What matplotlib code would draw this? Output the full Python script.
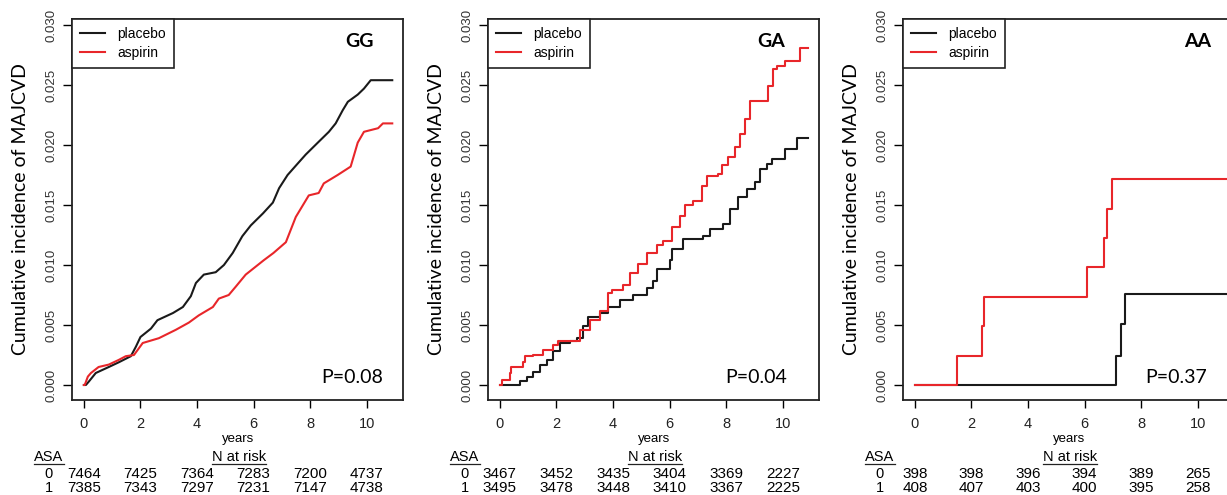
import matplotlib
matplotlib.use('Agg')
import matplotlib.pyplot as plt

plt.rcParams['font.family'] = ['Liberation Sans', 'DejaVu Sans']

# ---- data ----
panels = ['GG', 'GA', 'AA']
p_values = ['P=0.08', 'P=0.04', 'P=0.37']

gg_placebo_t = [0.0, 0.07, 0.18, 0.42, 0.88, 1.24, 1.66, 1.84, 2.0, 2.37, 2.6, 3.15, 3.5, 3.78, 3.96, 4.24,
                4.66, 4.95, 5.26, 5.6, 5.9, 6.33, 6.68, 6.9, 7.2, 7.5, 7.84, 8.27, 8.66, 8.9, 9.15, 9.33,
                9.68, 9.9, 10.14, 10.9]
gg_placebo_v = [0.0, 0.0, 0.0003, 0.001, 0.0015, 0.0019, 0.0024, 0.0032, 0.004, 0.0047, 0.0054, 0.006, 0.0065,
                0.0074, 0.0085, 0.0092, 0.0094, 0.010, 0.011, 0.0124, 0.0133, 0.0143, 0.0152, 0.0164, 0.0175,
                0.0183, 0.0192, 0.0202, 0.0211, 0.0218, 0.0229, 0.0236, 0.0242, 0.0247, 0.0254, 0.0254]
gg_aspirin_t = [0.0, 0.03, 0.14, 0.25, 0.52, 0.88, 1.24, 1.48, 1.77, 2.08, 2.65, 3.25, 3.71, 4.06, 4.56, 4.77,
                5.12, 5.37, 5.72, 6.36, 6.7, 7.14, 7.49, 7.95, 8.3, 8.48, 8.97, 9.43, 9.68, 9.9, 10.4, 10.57,
                10.9]
gg_aspirin_v = [0.0, 0.0, 0.0007, 0.001, 0.0015, 0.0017, 0.0021, 0.0024, 0.0025, 0.0035, 0.0039, 0.0046, 0.0052,
                0.0058, 0.0065, 0.0072, 0.0075, 0.0082, 0.0092, 0.0104, 0.011, 0.0119, 0.014, 0.0158, 0.016,
                0.0168, 0.0175, 0.0182, 0.0202, 0.0211, 0.0214, 0.0218, 0.0218]

ga_placebo_t = [0.0, 0.64, 0.7, 0.95, 1.17, 1.41, 1.66, 1.88, 2.12, 2.47, 2.72, 2.93, 3.1, 3.53, 3.82, 4.24,
                4.7, 5.19, 5.4, 5.55, 6.0, 6.1, 6.47, 7.17, 7.42, 7.88, 8.13, 8.41, 8.73, 9.01, 9.19, 9.43,
                9.61, 10.07, 10.49, 10.9]
ga_placebo_v = [0.0, 0.0, 0.0003, 0.0007, 0.0011, 0.0017, 0.0021, 0.0028, 0.0035, 0.0037, 0.0039, 0.0049,
                0.0057, 0.006, 0.0065, 0.0071, 0.0075, 0.0081, 0.0087, 0.0097, 0.0104, 0.0113, 0.0122, 0.0124,
                0.013, 0.0134, 0.0147, 0.0157, 0.0163, 0.0169, 0.018, 0.0184, 0.0188, 0.0197, 0.0206, 0.0206]
ga_aspirin_t = [0.0, 0.06, 0.35, 0.41, 0.82, 0.88, 1.17, 1.52, 1.88, 2.05, 2.83, 3.18, 3.53, 3.82, 3.96, 4.35,
                4.6, 4.88, 5.19, 5.55, 5.76, 6.08, 6.36, 6.54, 6.83, 7.14, 7.31, 7.7, 7.84, 8.06, 8.3, 8.48,
                8.66, 8.83, 9.47, 9.65, 9.79, 10.07, 10.6, 10.9]
ga_aspirin_v = [0.0, 0.0004, 0.001, 0.0015, 0.0019, 0.0024, 0.0025, 0.0029, 0.0033, 0.0037, 0.0046, 0.0054,
                0.0062, 0.0077, 0.0079, 0.0083, 0.0093, 0.0101, 0.011, 0.0117, 0.012, 0.0132, 0.0141, 0.015,
                0.0153, 0.0166, 0.0174, 0.0176, 0.0183, 0.019, 0.0198, 0.0209, 0.0222, 0.0237, 0.0249, 0.0263,
                0.0266, 0.027, 0.0281, 0.0281]

aa_placebo_t = [0.0, 7.1, 7.27, 7.44, 11.0]
aa_placebo_v = [0.0, 0.00245, 0.0051, 0.0076, 0.0076]
aa_aspirin_t = [0.0, 1.49, 2.38, 2.45, 6.1, 6.7, 6.78, 6.95, 11.0]
aa_aspirin_v = [0.0, 0.00245, 0.0049, 0.0073, 0.0098, 0.01225, 0.0147, 0.0172, 0.0172]

risk_times = [0, 2, 4, 6, 8, 10]
gg_risk_0 = [7464, 7425, 7364, 7283, 7200, 4737]
gg_risk_1 = [7385, 7343, 7297, 7231, 7147, 4738]
ga_risk_0 = [3467, 3452, 3435, 3404, 3369, 2227]
ga_risk_1 = [3495, 3478, 3448, 3410, 3367, 2225]
aa_risk_0 = [398, 398, 396, 394, 389, 265]
aa_risk_1 = [408, 407, 403, 400, 395, 258]

curves = [
    (gg_placebo_t, gg_placebo_v, gg_aspirin_t, gg_aspirin_v, gg_risk_0, gg_risk_1),
    (ga_placebo_t, ga_placebo_v, ga_aspirin_t, ga_aspirin_v, ga_risk_0, ga_risk_1),
    (aa_placebo_t, aa_placebo_v, aa_aspirin_t, aa_aspirin_v, aa_risk_0, aa_risk_1),
]
# GG has thousands of tiny steps: drawn as a jagged line; the others as steps
styles = ['default', 'steps-post', 'steps-post']
label_x = [9.75, 9.6, 10.0]
p_x = [9.5, 9.05, 9.25]

RED = '#e8262a'
BLACK = '#1a1a1a'
W, H = 1227, 495

fig = plt.figure(figsize=(W / 100, H / 100), dpi=100)

for i, left_px in enumerate([72, 488, 903]):
    ax = fig.add_axes([left_px / W, (H - 400) / H, 331 / W, 381 / H])
    pt, pv, at, av, r0, r1 = curves[i]
    ax.plot(pt, pv, drawstyle=styles[i], color=BLACK, lw=1.5, label='placebo')
    ax.plot(at, av, drawstyle=styles[i], color=RED, lw=1.5, label='aspirin')

    ax.set_xlim(-0.42, 11.28)
    ax.set_ylim(-0.00125, 0.0305)
    ax.set_xticks([0, 2, 4, 6, 8, 10])
    ax.set_yticks([0.0, 0.005, 0.01, 0.015, 0.02, 0.025, 0.03])
    ax.set_yticklabels(['0.000', '0.005', '0.010', '0.015', '0.020', '0.025', '0.030'],
                       rotation=90, va='center')
    ax.tick_params(axis='y', length=6.5, width=1, pad=4, labelsize=9.5, labelcolor='#333333')
    ax.tick_params(axis='x', length=6, width=1, pad=6, labelsize=10.5, labelcolor='#222222')
    for s in ax.spines.values():
        s.set_linewidth(1.3)
        s.set_color('#222222')

    leg = ax.legend(loc='upper left', borderaxespad=0, fancybox=False, fontsize=10,
                    handlelength=1.8, handletextpad=0.85, borderpad=0.6, labelspacing=0.3,
                    edgecolor='#222222', framealpha=1)
    leg.get_frame().set_linewidth(1.2)

    ax.text(label_x[i], 0.0286, panels[i], ha='center', va='center', fontsize=14,
            fontweight='bold', family='Lato')
    ax.text(p_x[i], 0.0006, p_values[i], ha='center', va='center', fontsize=14, family='Lato')

    ax.text(-0.155, 0.5, 'Cumulative incidence of MAJCVD', transform=ax.transAxes, rotation=90,
            ha='center', va='center', fontsize=14, family='Lato')

    # years label and N at risk table
    tr = ax.get_xaxis_transform()
    ax.text(5.44, -0.102, 'years', transform=tr, ha='center', va='center', fontsize=9.5)
    ax.text(-1.24, -0.150, 'ASA', transform=tr, ha='center', va='center', fontsize=10.5)
    ax.plot([-1.77, -0.71], [-0.168, -0.168], transform=tr, color='#222222', lw=0.9, clip_on=False)
    ax.text(5.47, -0.150, 'N at risk', transform=tr, ha='center', va='center', fontsize=10.5)
    ax.plot([4.52, 6.43], [-0.168, -0.168], transform=tr, color='#222222', lw=0.9, clip_on=False)
    ax.text(-1.24, -0.194, '0', transform=tr, ha='center', va='center', fontsize=10.5)
    ax.text(-1.24, -0.231, '1', transform=tr, ha='center', va='center', fontsize=10.5)
    for t, a, b in zip(risk_times, r0, r1):
        ax.text(t, -0.194, str(a), transform=tr, ha='center', va='center', fontsize=11)
        ax.text(t, -0.231, str(b), transform=tr, ha='center', va='center', fontsize=11)

fig.savefig('out.png', dpi=100)
